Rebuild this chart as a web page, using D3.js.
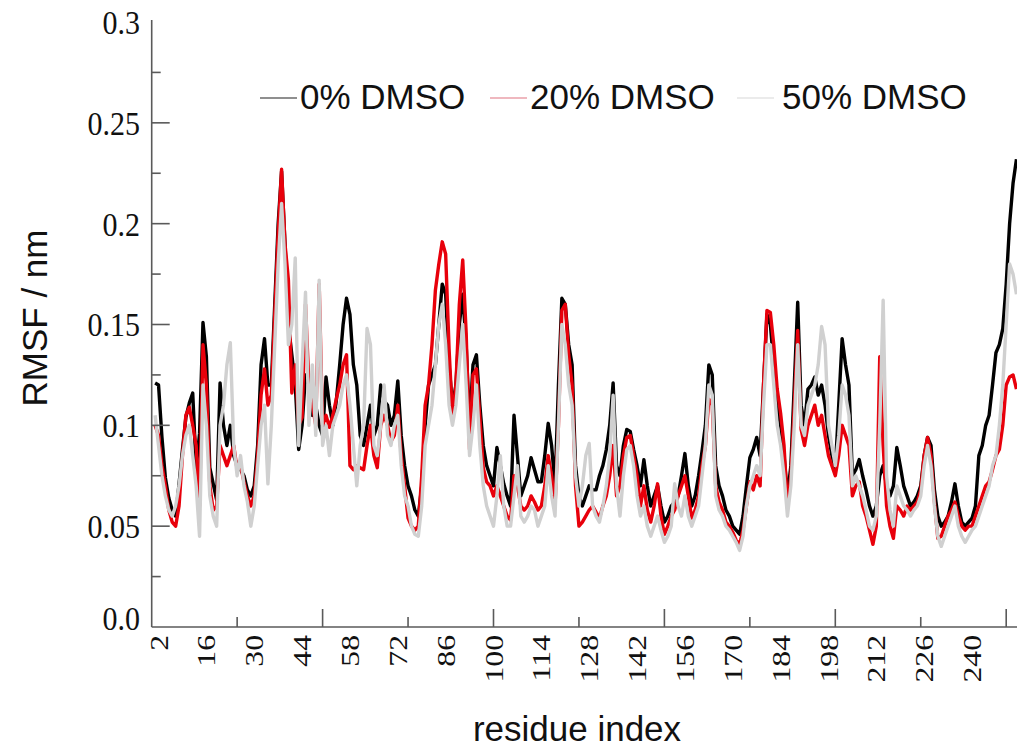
<!DOCTYPE html>
<html>
<head>
<meta charset="utf-8">
<script src="https://cdn.jsdelivr.net/npm/d3@7"></script>
<style>
  html, body { margin: 0; padding: 0; background: #fff; }
  svg { display: block; }
</style>
</head>
<body>
<svg id="chart" width="1017" height="751"></svg>
<script>
// RMSF per residue for the protein in three water/DMSO mixtures (nm)
const firstResidue = 1;

const rmsf0 = [
  0.121, 0.12, 0.094, 0.074, 0.064, 0.058, 0.055, 0.071, 0.088, 0.104, 0.111, 0.116, 0.079, 0.096, 0.151, 0.134, 0.079, 0.071, 0.063, 0.121,
  0.1, 0.09, 0.1, 0.085, 0.08, 0.078, 0.075, 0.068, 0.065, 0.07, 0.09, 0.13, 0.143, 0.12, 0.12, 0.16, 0.2, 0.226, 0.19, 0.15,
  0.135, 0.12, 0.088, 0.1, 0.125, 0.12, 0.105, 0.11, 0.1, 0.095, 0.124, 0.11, 0.1, 0.112, 0.13, 0.15, 0.163, 0.155, 0.13, 0.12,
  0.095, 0.09, 0.1, 0.11, 0.095, 0.1, 0.12, 0.112, 0.11, 0.1, 0.105, 0.122, 0.095, 0.08, 0.07, 0.065, 0.058, 0.055, 0.07, 0.1,
  0.12, 0.125, 0.13, 0.15, 0.17, 0.165, 0.13, 0.11, 0.12, 0.15, 0.165, 0.14, 0.1, 0.13, 0.135, 0.11, 0.09, 0.08, 0.075, 0.07,
  0.089, 0.08, 0.071, 0.065, 0.06, 0.105, 0.085, 0.065, 0.07, 0.075, 0.084, 0.078, 0.072, 0.072, 0.085, 0.101, 0.09, 0.07, 0.12, 0.163,
  0.16, 0.14, 0.13, 0.08, 0.065, 0.06, 0.065, 0.07, 0.068, 0.068, 0.075, 0.08, 0.088, 0.1, 0.121, 0.08, 0.075, 0.09, 0.098, 0.097,
  0.088, 0.08, 0.07, 0.083, 0.07, 0.06, 0.065, 0.07, 0.06, 0.052, 0.055, 0.06, 0.062, 0.065, 0.075, 0.086, 0.07, 0.06, 0.065, 0.075,
  0.087, 0.1, 0.13, 0.125, 0.08, 0.07, 0.065, 0.058, 0.055, 0.05, 0.048, 0.046, 0.055, 0.07, 0.084, 0.088, 0.094, 0.085, 0.12, 0.155,
  0.15, 0.13, 0.11, 0.1, 0.085, 0.065, 0.08, 0.12, 0.161, 0.11, 0.1, 0.118, 0.12, 0.124, 0.115, 0.12, 0.11, 0.095, 0.085, 0.078,
  0.11, 0.143, 0.13, 0.12, 0.075, 0.078, 0.083, 0.075, 0.068, 0.06, 0.055, 0.06, 0.075, 0.08, 0.07, 0.065, 0.07, 0.089, 0.08, 0.07,
  0.065, 0.06, 0.062, 0.065, 0.07, 0.085, 0.094, 0.09, 0.068, 0.055, 0.05, 0.052, 0.055, 0.062, 0.071, 0.06, 0.052, 0.05, 0.052, 0.054,
  0.06, 0.085, 0.09, 0.1, 0.105, 0.12, 0.136, 0.14, 0.148, 0.17, 0.2, 0.22, 0.232
];

const rmsf20 = [
  0.1, 0.095, 0.08, 0.07, 0.058, 0.052, 0.05, 0.06, 0.085, 0.105, 0.109, 0.1, 0.09, 0.06, 0.14, 0.12, 0.07, 0.058, 0.06, 0.09,
  0.085, 0.08, 0.085, 0.09, 0.078, 0.08, 0.072, 0.065, 0.06, 0.065, 0.085, 0.115, 0.128, 0.11, 0.115, 0.155, 0.195, 0.227, 0.19, 0.172,
  0.116, 0.13, 0.1, 0.104, 0.16, 0.12, 0.11, 0.1, 0.17, 0.1, 0.105, 0.099, 0.105, 0.113, 0.12, 0.13, 0.135, 0.08, 0.078, 0.08,
  0.079, 0.078, 0.09, 0.1, 0.085, 0.079, 0.1, 0.105, 0.1, 0.092, 0.095, 0.11, 0.085, 0.07, 0.054, 0.05, 0.048, 0.05, 0.075, 0.11,
  0.12, 0.14, 0.167, 0.18, 0.191, 0.185, 0.138, 0.104, 0.12, 0.16, 0.182, 0.146, 0.088, 0.125, 0.128, 0.104, 0.079, 0.072, 0.07, 0.065,
  0.07, 0.065, 0.06, 0.055, 0.053, 0.075, 0.07, 0.06, 0.058, 0.06, 0.065, 0.062, 0.058, 0.06, 0.07, 0.085, 0.075, 0.06, 0.1, 0.157,
  0.16, 0.135, 0.12, 0.07, 0.05, 0.052, 0.055, 0.058, 0.06, 0.057, 0.054, 0.06, 0.065, 0.075, 0.09, 0.065, 0.07, 0.085, 0.094, 0.095,
  0.085, 0.075, 0.06, 0.07, 0.058, 0.052, 0.06, 0.071, 0.055, 0.046, 0.05, 0.055, 0.058, 0.065, 0.07, 0.075, 0.065, 0.054, 0.058, 0.065,
  0.08, 0.09, 0.113, 0.11, 0.07, 0.062, 0.058, 0.052, 0.05, 0.047, 0.043, 0.041, 0.048, 0.06, 0.072, 0.068, 0.075, 0.07, 0.12, 0.157,
  0.156, 0.14, 0.118, 0.106, 0.09, 0.06, 0.075, 0.11, 0.147, 0.098, 0.09, 0.1, 0.105, 0.11, 0.1, 0.105, 0.095, 0.085, 0.08, 0.075,
  0.085, 0.1, 0.095, 0.09, 0.065, 0.07, 0.072, 0.06, 0.055, 0.048, 0.041, 0.05, 0.134, 0.09, 0.06, 0.05, 0.044, 0.06, 0.058, 0.055,
  0.06, 0.058, 0.06, 0.062, 0.068, 0.085, 0.094, 0.085, 0.062, 0.044, 0.045, 0.05, 0.055, 0.058, 0.062, 0.055, 0.05, 0.048, 0.05, 0.05,
  0.055, 0.06, 0.065, 0.07, 0.072, 0.078, 0.085, 0.088, 0.1, 0.12, 0.124, 0.125, 0.118
];

const rmsf50 = [
  0.105, 0.09, 0.075, 0.065, 0.058, 0.055, 0.06, 0.07, 0.085, 0.095, 0.1, 0.085, 0.07, 0.045, 0.12, 0.1, 0.065, 0.055, 0.05, 0.1,
  0.11, 0.13, 0.141, 0.09, 0.075, 0.085, 0.07, 0.062, 0.05, 0.06, 0.08, 0.1, 0.11, 0.071, 0.1, 0.14, 0.18, 0.21, 0.18, 0.14,
  0.15, 0.183, 0.09, 0.13, 0.166, 0.1, 0.13, 0.095, 0.172, 0.09, 0.1, 0.085, 0.1, 0.105, 0.11, 0.12, 0.125, 0.11, 0.09, 0.07,
  0.09, 0.1, 0.148, 0.14, 0.09, 0.085, 0.1, 0.12, 0.095, 0.09, 0.1, 0.105, 0.08, 0.065, 0.06, 0.05, 0.046, 0.045, 0.06, 0.09,
  0.1, 0.11, 0.13, 0.15, 0.16, 0.14, 0.11, 0.1, 0.11, 0.13, 0.15, 0.12, 0.085, 0.1, 0.12, 0.09, 0.07, 0.06, 0.055, 0.05,
  0.065, 0.085, 0.06, 0.05, 0.05, 0.065, 0.08, 0.055, 0.052, 0.055, 0.06, 0.058, 0.05, 0.055, 0.06, 0.08, 0.065, 0.055, 0.1, 0.15,
  0.14, 0.12, 0.11, 0.075, 0.06, 0.07, 0.085, 0.091, 0.06, 0.055, 0.052, 0.06, 0.07, 0.085, 0.115, 0.07, 0.055, 0.075, 0.088, 0.09,
  0.08, 0.065, 0.055, 0.06, 0.05, 0.045, 0.05, 0.055, 0.048, 0.042, 0.045, 0.05, 0.071, 0.06, 0.055, 0.065, 0.055, 0.05, 0.055, 0.06,
  0.075, 0.09, 0.12, 0.115, 0.065, 0.058, 0.055, 0.05, 0.048, 0.045, 0.042, 0.038, 0.045, 0.06, 0.07, 0.075, 0.08, 0.075, 0.11, 0.14,
  0.14, 0.12, 0.1, 0.09, 0.075, 0.055, 0.07, 0.1, 0.14, 0.1, 0.095, 0.11, 0.115, 0.12, 0.13, 0.149, 0.14, 0.1, 0.09, 0.08,
  0.095, 0.12, 0.115, 0.105, 0.07, 0.075, 0.07, 0.065, 0.058, 0.05, 0.048, 0.055, 0.1, 0.162, 0.075, 0.058, 0.05, 0.07, 0.065, 0.06,
  0.058, 0.055, 0.058, 0.06, 0.065, 0.08, 0.09, 0.08, 0.06, 0.045, 0.04, 0.045, 0.05, 0.055, 0.06, 0.05, 0.045, 0.042, 0.045, 0.048,
  0.05, 0.055, 0.06, 0.065, 0.07, 0.08, 0.085, 0.1, 0.12, 0.15, 0.18, 0.175, 0.165
];

const seriesNames = ["0% DMSO", "20% DMSO", "50% DMSO"];
const seriesColors = ["#000000", "#e8000b", "#d0d0d0"];
const legendColors = ["#6a6a6a", "#eaa0aa", "#e4e4e4"];

// category labels under the residue axis
const residueLabels = [2, 16, 30, 44, 58, 72, 86, 100, 114, 128, 142, 156, 170, 184, 198, 212, 226, 240];
const yTickValues = [0, 0.05, 0.1, 0.15, 0.2, 0.25, 0.3];
const yTickLabels = ["0.0", "0.05", "0.1", "0.15", "0.2", "0.25", "0.3"];

const svg = d3.select("#chart");
const axisColor = "#5a5a5a";
const serif = "'Liberation Serif', 'Times New Roman', serif";
const sans = "'Liberation Sans', Arial, sans-serif";

const x = d3.scaleLinear().domain([0, 250]).range([151.7, 1006.2]);
const y = d3.scaleLinear().domain([0, 0.3]).range([627, 22]);

// ---- data lines (black under red under grey)
const seriesData = [rmsf0, rmsf20, rmsf50];
const line = d3.line()
  .x((d, i) => x(firstResidue + i))
  .y(d => y(d));

svg.append("g")
  .selectAll("path")
  .data(seriesData)
  .join("path")
  .attr("d", line)
  .attr("fill", "none")
  .attr("stroke", (d, i) => seriesColors[i])
  .attr("stroke-width", 3.4)
  .attr("stroke-linejoin", "round");

// ---- y axis: inward major ticks every 0.05, minor every 0.025
const yAxisG = svg.append("g").attr("transform", `translate(${x(0)},0)`);
yAxisG.append("line")
  .attr("x1", 0).attr("x2", 0)
  .attr("y1", y(0.3) - 2).attr("y2", y(0))
  .attr("stroke", axisColor).attr("stroke-width", 1.6);
yAxisG.selectAll("line.major")
  .data(yTickValues.filter(v => v > 0 && v < 0.3))
  .join("line")
  .attr("class", "major")
  .attr("x1", 0).attr("x2", 18)
  .attr("y1", d => y(d)).attr("y2", d => y(d))
  .attr("stroke", axisColor).attr("stroke-width", 1.6);
yAxisG.selectAll("line.minor")
  .data(d3.range(0.025, 0.3, 0.05))
  .join("line")
  .attr("class", "minor")
  .attr("x1", 0).attr("x2", 9)
  .attr("y1", d => y(d)).attr("y2", d => y(d))
  .attr("stroke", axisColor).attr("stroke-width", 1.6);

svg.append("g")
  .selectAll("text")
  .data(yTickValues)
  .join("text")
  .attr("transform", d => `translate(140,${y(d) - (d === 0 ? 9 : 0)}) scale(1,1.13)`)
  .attr("text-anchor", "end")
  .attr("dy", "0.35em")
  .attr("font-family", serif)
  .attr("font-size", 30)
  .attr("fill", "#111")
  .text((d, i) => yTickLabels[i]);

// ---- x axis: inward ticks, major every 50, minor every 25
const xAxisG = svg.append("g").attr("transform", `translate(0,${y(0)})`);
xAxisG.append("line")
  .attr("x1", x(0)).attr("x2", 1017)
  .attr("y1", 0).attr("y2", 0)
  .attr("stroke", axisColor).attr("stroke-width", 1.6);
xAxisG.selectAll("line.tick")
  .data(d3.range(25, 251, 25))
  .join("line")
  .attr("class", "tick")
  .attr("x1", d => x(d)).attr("x2", d => x(d))
  .attr("y1", 0).attr("y2", d => d % 50 === 0 ? -18 : -10)
  .attr("stroke", axisColor).attr("stroke-width", 1.6);

svg.append("g")
  .selectAll("text")
  .data(residueLabels)
  .join("text")
  .attr("transform", d => `translate(${x(d)},635) rotate(-90) scale(1.22,1)`)
  .attr("text-anchor", "end")
  .attr("dy", "0.35em")
  .attr("font-family", serif)
  .attr("font-size", 26)
  .attr("fill", "#111")
  .text(d => d);

// ---- axis titles
svg.append("text")
  .attr("x", 577).attr("y", 741)
  .attr("text-anchor", "middle")
  .attr("font-family", sans)
  .attr("font-size", 35)
  .attr("fill", "#111")
  .text("residue index");

svg.append("text")
  .attr("transform", "translate(47,318) rotate(-90)")
  .attr("text-anchor", "middle")
  .attr("font-family", sans)
  .attr("font-size", 35)
  .attr("fill", "#111")
  .text("RMSF / nm");

// ---- legend
const legendX = [260, 490, 737];
const legend = svg.append("g")
  .selectAll("g")
  .data(seriesNames)
  .join("g")
  .attr("transform", (d, i) => `translate(${legendX[i]},98)`);
legend.append("line")
  .attr("x1", 0).attr("x2", 37)
  .attr("y1", 0).attr("y2", 0)
  .attr("stroke", (d, i) => legendColors[i])
  .attr("stroke-width", 1.5);
legend.append("text")
  .attr("x", (d, i) => i === 2 ? 45 : 40)
  .attr("y", 11)
  .attr("font-family", sans)
  .attr("font-size", 35)
  .attr("fill", "#111")
  .text(d => d);
</script>
</body>
</html>
